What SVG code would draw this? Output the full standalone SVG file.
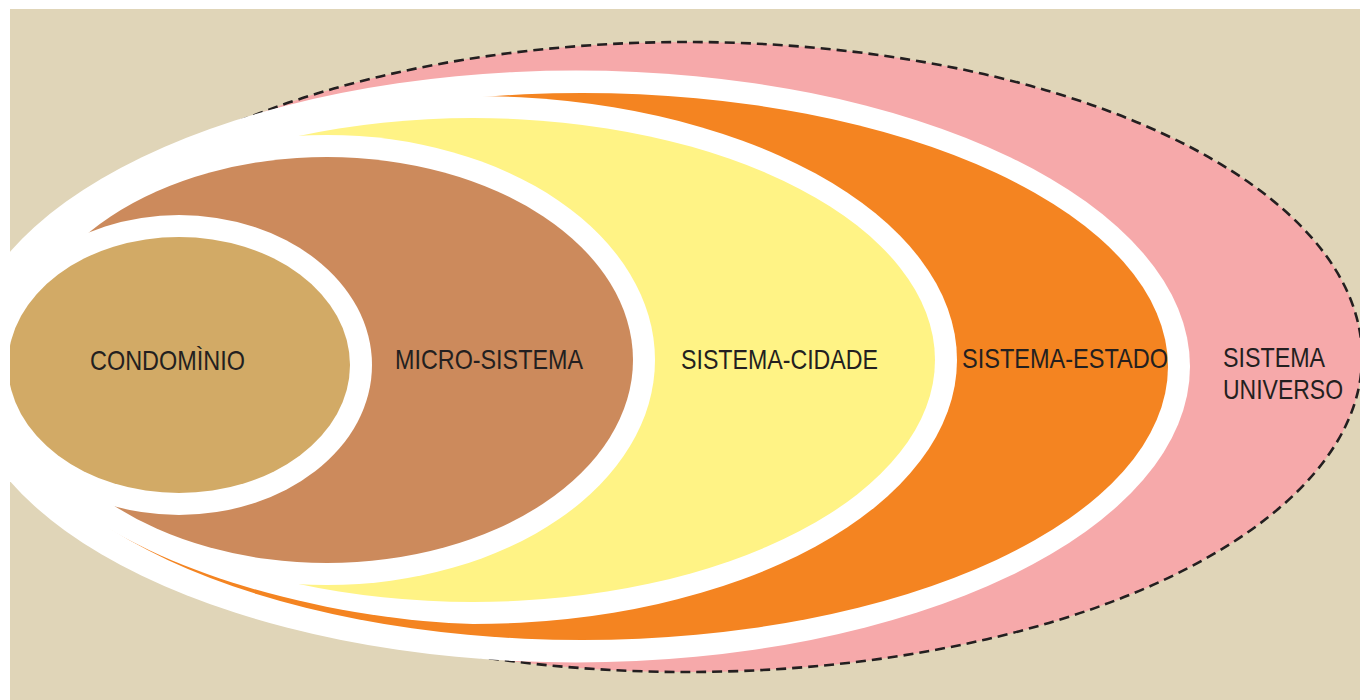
<svg xmlns="http://www.w3.org/2000/svg" width="1360" height="700" viewBox="0 0 1360 700">
  <style>
    .halo { fill: #FFFFFF; }
    .lbl { font-family: "Liberation Sans", Arial, sans-serif; font-size: 28px; fill: #231F20; }
  </style>
  <defs>
    <clipPath id="frame">
      <rect x="10" y="9" width="1350" height="691"/>
    </clipPath>
  </defs>
  <rect x="0" y="0" width="1360" height="700" fill="#FFFFFF"/>
  <rect x="10" y="9" width="1350" height="691" fill="#E0D5B8"/>
  <g clip-path="url(#frame)">
    <g id="universo">
      <ellipse cx="687" cy="357" rx="675" ry="315" fill="#F6A9AA" stroke="#231F20" stroke-width="2.6" stroke-dasharray="10 6"/>
      <text class="lbl" x="1223" y="367" textLength="102" lengthAdjust="spacingAndGlyphs">SISTEMA</text>
      <text class="lbl" x="1223" y="399" textLength="120" lengthAdjust="spacingAndGlyphs">UNIVERSO</text>
    </g>
    <g id="estado">
      <ellipse class="halo" cx="576" cy="366.5" rx="614" ry="296"/>
      <ellipse cx="582" cy="366.5" rx="586" ry="273.5" fill="#F48421"/>
      <text class="lbl" x="962" y="368" textLength="206" lengthAdjust="spacingAndGlyphs">SISTEMA-ESTADO</text>
    </g>
    <g id="cidade">
      <path class="halo" d="M473,96 A484,264 0 0 1 957,360 A484,264 0 0 1 473,624 C300,620 -10,540 -10,360 C-10,214 206,96 473,96 Z"/>
      <ellipse cx="473" cy="360" rx="462" ry="242" fill="#FFF385"/>
      <text class="lbl" x="681" y="369" textLength="197" lengthAdjust="spacingAndGlyphs">SISTEMA-CIDADE</text>
    </g>
    <g id="micro">
      <ellipse class="halo" cx="327" cy="360" rx="328" ry="225"/>
      <ellipse cx="327" cy="360" rx="306" ry="203" fill="#CC8A5C"/>
      <text class="lbl" x="395" y="369" textLength="188" lengthAdjust="spacingAndGlyphs">MICRO-SISTEMA</text>
    </g>
    <g id="condominio">
      <ellipse class="halo" cx="179" cy="365" rx="193" ry="150"/>
      <ellipse cx="179" cy="365" rx="171" ry="128" fill="#D2AA66"/>
      <text class="lbl" x="90" y="370" textLength="155" lengthAdjust="spacingAndGlyphs">CONDOMÌNIO</text>
    </g>
  </g>
  <g id="connectors"/>
</svg>
